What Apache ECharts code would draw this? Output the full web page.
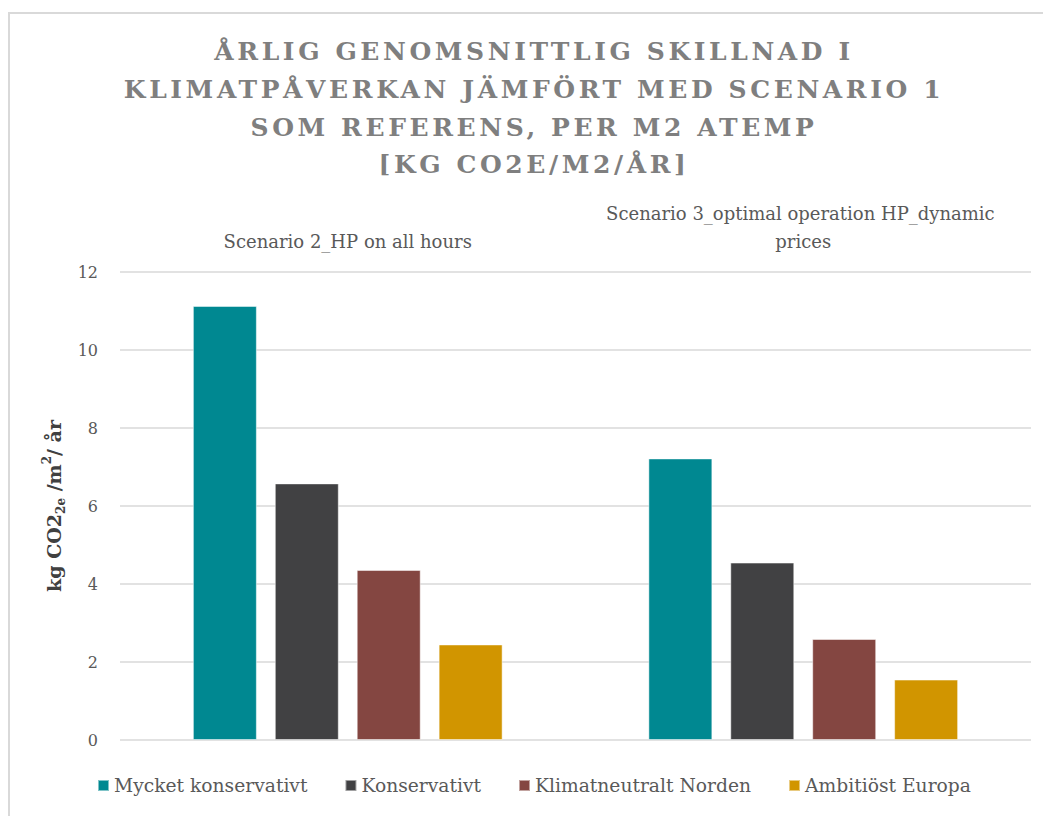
<!DOCTYPE html>
<html>
<head>
<meta charset="utf-8">
<script src="https://cdn.jsdelivr.net/npm/echarts@6/dist/echarts.min.js"></script>
<style>html,body{margin:0;padding:0;background:#fff;}#c{width:1043px;height:816px;}</style>
</head>
<body>
<div id="c"></div>
<script>
const titleLines = ['ÅRLIG GENOMSNITTLIG SKILLNAD I', 'KLIMATPÅVERKAN JÄMFÖRT MED SCENARIO 1', 'SOM REFERENS, PER M2 ATEMP', '[KG CO2E/M2/ÅR]'];
const categories = ['Scenario 2_HP on all hours', 'Scenario 3_optimal operation HP_dynamic prices'];
const seriesNames = ['Mycket konservativt', 'Konservativt', 'Klimatneutralt Norden', 'Ambitiöst Europa'];
const mycketKonservativt = [11.13, 7.22];
const konservativt = [6.58, 4.55];
const klimatneutraltNorden = [4.36, 2.59];
const ambitiostEuropa = [2.45, 1.55];
const colors = ['#008891', '#414143', '#844641', '#d19500'];
const yTicks = { min: 0, max: 12, interval: 2 };

const values = [mycketKonservativt, konservativt, klimatneutraltNorden, ambitiostEuropa];
const serif = '"DejaVu Serif", "Liberation Serif", serif';

const chart = echarts.init(document.getElementById('c'), null, { renderer: 'svg' });
chart.setOption({
  animation: false,
  backgroundColor: '#fff',
  color: colors,
  graphic: [{
    type: 'rect', shape: { x: 9, y: 13, width: 1050, height: 820 },
    style: { fill: 'none', stroke: '#d9d9d9', lineWidth: 2 }, silent: true, z: -1
  }],
  title: {
    text: titleLines.join('\n'), left: 529, top: 28, textAlign: 'center',
    textStyle: { fontFamily: serif, fontSize: 25, fontWeight: 600, color: '#7f7f7f', lineHeight: 37.7 }
  },
  legend: {
    bottom: 16, left: 92, itemWidth: 11, itemHeight: 11, itemGap: 37,
    icon: 'rect',
    textStyle: { fontFamily: serif, fontSize: 18.7, color: '#595959' },
    data: seriesNames
  },
  grid: { left: 120, right: 12, top: 272, bottom: 76, containLabel: false },
  xAxis: {
    type: 'category', data: categories, position: 'top',
    axisLine: { show: false }, axisTick: { show: false },
    axisLabel: { interval: 0, fontFamily: serif, fontSize: 18, color: '#595959', margin: 17, width: 430, overflow: 'break', lineHeight: 28 }
  },
  yAxis: {
    type: 'value', min: yTicks.min, max: yTicks.max, interval: yTicks.interval,
    axisLine: { show: false }, axisTick: { show: false },
    splitLine: { lineStyle: { color: '#d9d9d9', width: 1.5 } },
    axisLabel: { fontFamily: serif, fontSize: 16, color: '#595959', margin: 22 },
    name: '{a|kg CO2}{sub|2e}{a| /m}{sup|2}{a|/ år}',
    nameLocation: 'middle', nameGap: 52, nameRotate: 90,
    nameTextStyle: {
      rich: {
        a: { fontFamily: serif, fontSize: 19, fontWeight: 'bold', color: '#404040', lineHeight: 26, verticalAlign: 'middle' },
        sub: { fontFamily: serif, fontSize: 12, fontWeight: 'bold', color: '#404040', lineHeight: 26, verticalAlign: 'bottom', padding: [10, 0, 0, 0] },
        sup: { fontFamily: serif, fontSize: 12, fontWeight: 'bold', color: '#404040', lineHeight: 26, verticalAlign: 'top', padding: [0, 0, 10, 0] }
      }
    }
  },
  series: seriesNames.map((n, i) => ({
    name: n, type: 'bar', data: values[i], barWidth: 64, barGap: '28%',
    itemStyle: { color: colors[i], borderColor: 'rgba(255,255,255,0.5)', borderWidth: 1 }
  }))
});

function spaceTitle() {
  document.querySelectorAll('#c svg text').forEach(t => {
    if (titleLines.indexOf(t.textContent) >= 0) {
      t.setAttribute('letter-spacing', '3.6');
      t.style.letterSpacing = '3.6px';
    }
  });
}
chart.on('finished', spaceTitle);
spaceTitle();
setTimeout(spaceTitle, 50);
</script>
</body>
</html>
